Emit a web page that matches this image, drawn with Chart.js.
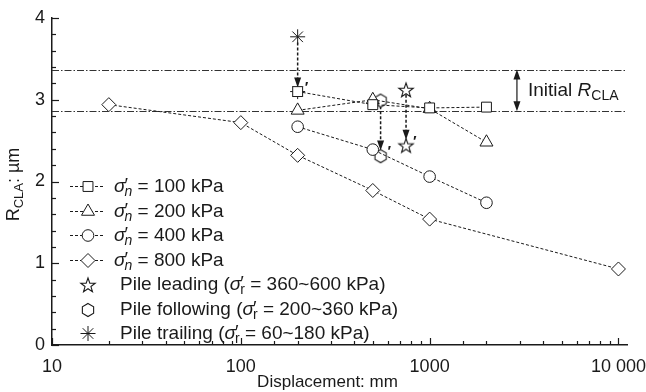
<!DOCTYPE html>
<html>
<head>
<meta charset="utf-8">
<script src="https://cdn.jsdelivr.net/npm/chart.js@4.4.0/dist/chart.umd.min.js"></script>
<style>
  html, body { margin: 0; padding: 0; background: #fff; }
  #wrap { width: 646px; height: 392px; }
</style>
</head>
<body>
<div id="wrap"><canvas id="chart" width="646" height="392"></canvas></div>
<script>
// shear tests at constant normal stress (displacement in mm, R_CLA in um)
const disp100 = [200, 500, 1000, 2000];
const rcla100 = [3.10, 2.94, 2.90, 2.91];
const disp200 = [200, 500, 1000, 2000];
const rcla200 = [2.87, 3.00, 2.89, 2.48];
const disp400 = [200, 500, 1000, 2000];
const rcla400 = [2.67, 2.39, 2.06, 1.74];
const disp800 = [20, 100, 200, 500, 1000, 10000];
const rcla800 = [2.94, 2.72, 2.32, 1.89, 1.54, 0.93];

// pile instrumented surfaces, before -> after installation
const leadDisp = [750, 750];
const leadRcla = [3.12, 2.44];
const followDisp = [550, 550];
const followRcla = [2.99, 2.31];
const trailDisp = [200, 200];
const trailRcla = [3.77, 3.10];

// arrows between before / after
const arrowDisp = [200, 550, 750];
const arrowFrom = [3.70, 2.92, 3.06];
const arrowTo = [3.15, 2.38, 2.51];

// initial roughness band
const initialRcla = [3.37, 2.86];
const initialArrowDisp = 2900;

const xTickLabels = { 10: '10', 100: '100', 1000: '1000', 10000: '10 000' };
const seriesLabels = ['100 kPa', '200 kPa', '400 kPa', '800 kPa'];
const pileLabels = ['Pile leading (', 'Pile following (', 'Pile trailing ('];
const pileRanges = [' = 360~600 kPa)', ' = 200~360 kPa)', ' = 60~180 kPa)'];

const FONT = '"Liberation Sans", Arial, Helvetica, sans-serif';
const INK = '#1a1a1a';

function pts(xs, ys) { return xs.map((x, i) => ({ x: x, y: ys[i] })); }

// custom marker images
function starMarker() {
  const c = document.createElement('canvas');
  c.width = 18; c.height = 18;
  const g = c.getContext('2d');
  g.beginPath();
  for (let i = 0; i < 10; i++) {
    const r = i % 2 ? 3.1 : 7.6;
    const a = -Math.PI / 2 + i * Math.PI / 5;
    g.lineTo(9 + r * Math.cos(a), 9.6 + r * Math.sin(a));
  }
  g.closePath();
  g.fillStyle = '#fff'; g.fill();
  g.strokeStyle = INK; g.lineWidth = 1.1; g.stroke();
  return c;
}
function hexMarker() {
  const c = document.createElement('canvas');
  c.width = 16; c.height = 16;
  const g = c.getContext('2d');
  g.beginPath();
  for (let i = 0; i < 6; i++) {
    const a = -Math.PI / 2 + i * Math.PI / 3;
    g.lineTo(8 + 6.5 * Math.cos(a), 8 + 6.5 * Math.sin(a));
  }
  g.closePath();
  g.fillStyle = '#fff'; g.fill();
  g.strokeStyle = INK; g.lineWidth = 1.1; g.stroke();
  return c;
}
const starImg = starMarker();
const hexImg = hexMarker();

const lineSeries = [
  { data: pts(disp100, rcla100), style: 'rect', r: 7 },
  { data: pts(disp200, rcla200), style: 'triangle', r: 7.5 },
  { data: pts(disp400, rcla400), style: 'circle', r: 5.8 },
  { data: pts(disp800, rcla800), style: 'rectRot', r: 7 }
];
const pileSeries = [
  { data: pts(leadDisp, leadRcla), style: starImg, r: 7 },
  { data: pts(followDisp, followRcla), style: hexImg, r: 7 },
  { data: pts(trailDisp, trailRcla), style: 'star', r: 7.5 }
];

const datasets = [];
lineSeries.forEach(s => datasets.push({
  data: s.data, showLine: true, borderColor: INK, borderWidth: 1, borderDash: [3, 2],
  pointStyle: s.style, pointRadius: s.r, pointBorderColor: INK, pointBackgroundColor: '#fff',
  pointBorderWidth: 1
}));
pileSeries.forEach(s => datasets.push({
  data: s.data, showLine: false,
  pointStyle: s.style, pointRadius: s.r, pointBorderColor: INK, pointBackgroundColor: '#fff',
  pointBorderWidth: 1
}));

function font(sz, italic) { return (italic ? 'italic ' : '') + sz + 'px ' + FONT; }

// sigma with prime and subscript, returns x after it
function drawSigma(ctx, x, y, sub, subItalic) {
  ctx.font = font(19, true);
  ctx.fillText('σ', x, y);
  const w = ctx.measureText('σ').width;
  ctx.font = font(19, false);
  ctx.fillText('′', x + w - 1, y - 1);
  const pw = ctx.measureText('′').width;
  ctx.font = font(14, subItalic);
  ctx.fillText(sub, x + w - 1, y + 6);
  const sw = ctx.measureText(sub).width;
  return x + w - 1 + Math.max(pw, sw);
}

function arrowHead(ctx, x, y, dir) {
  ctx.beginPath();
  ctx.moveTo(x, y);
  ctx.lineTo(x - 3.5, y - dir * 10);
  ctx.lineTo(x + 3.5, y - dir * 10);
  ctx.closePath();
  ctx.fill();
}

const decor = {
  id: 'decor',
  beforeDatasetsDraw(chart) {
    const { ctx, chartArea: a } = chart;
    const xs = chart.scales.x, ys = chart.scales.y;
    ctx.save();
    // initial band lines
    ctx.strokeStyle = '#333'; ctx.lineWidth = 1; ctx.setLineDash([7, 2, 1.5, 2]);
    initialRcla.forEach(v => {
      const py = Math.round(ys.getPixelForValue(v)) + 0.5;
      ctx.beginPath(); ctx.moveTo(a.left, py); ctx.lineTo(a.right, py); ctx.stroke();
    });
    // before -> after arrows
    ctx.setLineDash([3, 2]); ctx.lineWidth = 1.5; ctx.strokeStyle = INK; ctx.fillStyle = INK;
    arrowDisp.forEach((d, i) => {
      const px = xs.getPixelForValue(d);
      const y0 = ys.getPixelForValue(arrowFrom[i]);
      const y1 = ys.getPixelForValue(arrowTo[i]);
      ctx.beginPath(); ctx.moveTo(px, y0); ctx.lineTo(px, y1 - 8); ctx.stroke();
      arrowHead(ctx, px, y1, 1);
    });
    ctx.restore();
  },
  afterDatasetsDraw(chart) {
    const { ctx, chartArea: a } = chart;
    const xs = chart.scales.x, ys = chart.scales.y;
    ctx.save();
    ctx.fillStyle = INK; ctx.strokeStyle = INK;
    // inward ticks
    ctx.lineWidth = 1.2;
    xs.ticks.forEach(t => {
      if (t.value > 10000) return;
      const px = Math.round(xs.getPixelForValue(t.value)) + 0.5;
      const major = Math.abs(Math.log10(t.value) - Math.round(Math.log10(t.value))) < 1e-9;
      ctx.beginPath(); ctx.moveTo(px, a.bottom); ctx.lineTo(px, a.bottom - (major ? 7 : 4)); ctx.stroke();
    });
    ys.ticks.forEach(t => {
      const py = Math.round(ys.getPixelForValue(t.value)) + 0.5;
      const major = Math.abs(t.value - Math.round(t.value)) < 1e-6;
      ctx.beginPath(); ctx.moveTo(a.left, py); ctx.lineTo(a.left + (major ? 7 : 4), py); ctx.stroke();
    });
    // primes on "after" pile markers
    ctx.font = 'bold ' + font(15, false); ctx.textBaseline = 'middle';
    [leadDisp, followDisp, trailDisp].forEach((xsArr, k) => {
      const ysArr = [leadRcla, followRcla, trailRcla][k];
      const px = xs.getPixelForValue(xsArr[1]);
      const py = ys.getPixelForValue(ysArr[1]);
      ctx.fillText('′', px + 7, py - 4);
    });
    // initial R_CLA double arrow
    const ax = xs.getPixelForValue(initialArrowDisp);
    const yTop = ys.getPixelForValue(initialRcla[0]);
    const yBot = ys.getPixelForValue(initialRcla[1]);
    ctx.lineWidth = 1.2;
    ctx.beginPath(); ctx.moveTo(ax, yTop + 6); ctx.lineTo(ax, yBot - 6); ctx.stroke();
    arrowHead(ctx, ax, yTop, -1);
    arrowHead(ctx, ax, yBot, 1);
    let tx = ax + 11, ty = (yTop + yBot) / 2;
    ctx.textBaseline = 'middle'; ctx.textAlign = 'left';
    ctx.font = font(19, false); ctx.fillText('Initial ', tx, ty); tx += ctx.measureText('Initial ').width;
    ctx.font = font(19, true); ctx.fillText('R', tx, ty); tx += ctx.measureText('R').width;
    ctx.font = font(14, false); ctx.fillText('CLA', tx, ty + 6);

    // legend
    const lx0 = 70, lx1 = 104, mx = 88, rowY = 186, rowH = 24.5;
    ctx.textBaseline = 'middle';
    lineSeries.forEach((s, i) => {
      const y = Math.round(rowY + i * rowH) + 0.5;
      ctx.setLineDash([3, 2]); ctx.lineWidth = 1;
      ctx.beginPath(); ctx.moveTo(lx0, y); ctx.lineTo(lx1, y); ctx.stroke();
      ctx.setLineDash([]);
      ctx.fillStyle = '#fff';
      Chart.helpers.drawPoint(ctx, { pointStyle: s.style, radius: s.r, borderWidth: 1, rotation: 0 }, mx, y);
      ctx.fillStyle = INK;
      let x = drawSigma(ctx, 114, y, 'n', true);
      ctx.font = font(19, false);
      ctx.fillText(' = ' + seriesLabels[i], x, y);
    });
    pileSeries.forEach((s, i) => {
      const y = Math.round(rowY + (i + 4) * rowH) + 0.5;
      ctx.setLineDash([]); ctx.lineWidth = 1;
      if (typeof s.style === 'string') {
        Chart.helpers.drawPoint(ctx, { pointStyle: s.style, radius: s.r, borderWidth: 1, rotation: 0 }, mx, y);
      } else {
        ctx.drawImage(s.style, Math.round(mx - s.style.width / 2), Math.round(y - s.style.height / 2));
      }
      ctx.font = font(19, false);
      ctx.fillText(pileLabels[i], 120, y);
      let x = 120 + ctx.measureText(pileLabels[i]).width;
      x = drawSigma(ctx, x, y, 'r', false);
      ctx.font = font(19, false);
      ctx.fillText(pileRanges[i], x, y);
    });

    // axis titles
    ctx.textAlign = 'center'; ctx.textBaseline = 'middle';
    ctx.font = font(17, false);
    ctx.fillText('Displacement: mm', (a.left + a.right) / 2 - 12, 382);
    ctx.save();
    ctx.translate(14, (a.top + a.bottom) / 2 + 3);
    ctx.rotate(-Math.PI / 2);
    ctx.textAlign = 'left';
    ctx.font = font(18, false);
    const w1 = ctx.measureText('R').width;
    ctx.font = font(13, false);
    const w2 = ctx.measureText('CLA').width;
    ctx.font = font(18, false);
    const w3 = ctx.measureText(': µm').width;
    let sx = -(w1 + w2 + w3) / 2;
    ctx.fillText('R', sx, 0); sx += w1;
    ctx.font = font(13, false); ctx.fillText('CLA', sx, 5); sx += w2;
    ctx.font = font(18, false); ctx.fillText(': µm', sx, 0);
    ctx.restore();
    ctx.restore();
  }
};

new Chart(document.getElementById('chart'), {
  type: 'scatter',
  data: { datasets: datasets },
  options: {
    responsive: false,
    animation: false,
    layout: { padding: { top: 18, right: 19, left: 0, bottom: 0 } },
    plugins: { legend: { display: false }, tooltip: { enabled: false } },
    scales: {
      x: {
        type: 'logarithmic', min: 10, max: 11100,
        grid: { display: false, drawTicks: false },
        border: { display: true, color: INK, width: 1.5 },
        ticks: {
          autoSkip: false, maxRotation: 0, padding: 11, color: INK,
          font: { size: 18, family: FONT },
          callback: v => xTickLabels[v] || ''
        },
        afterFit: s => { s.height = 47; }
      },
      y: {
        min: 0, max: 4,
        grid: { display: false, drawTicks: false },
        border: { display: true, color: INK, width: 1.5 },
        ticks: {
          stepSize: 0.2, autoSkip: false, padding: 7, color: INK,
          font: { size: 18, family: FONT },
          callback: v => Math.abs(v - Math.round(v)) < 1e-6 ? String(Math.round(v)) : ''
        },
        afterFit: s => { s.width = 52; }
      }
    }
  },
  plugins: [decor]
});
</script>
</body>
</html>
